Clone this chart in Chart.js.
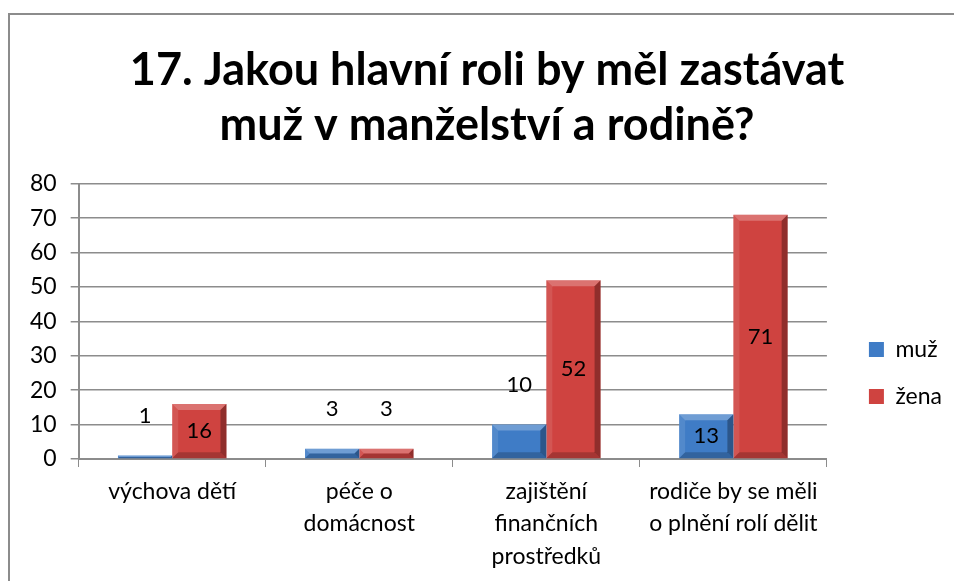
<!DOCTYPE html>
<html>
<head>
<meta charset="utf-8">
<script src="https://cdn.jsdelivr.net/npm/chart.js@4"></script>
<style>
  body { margin: 0; background: #fff; }
</style>
</head>
<body>
<canvas id="chart" width="954" height="581"></canvas>
<script>
const categories = [
    ['výchova dětí'],
    ['péče o', 'domácnost'],
    ['zajištění', 'finančních', 'prostředků'],
    ['rodiče by se měli', 'o plnění rolí dělit']
];
const muz = [1, 3, 10, 13];
const zena = [16, 3, 52, 71];
const titleLines = ['17. Jakou hlavní roli by měl zastávat', 'muž v manželství a rodině?'];

const FONT = 'Lato, "Open Sans", sans-serif';

// grey frame like the Excel chart area (left and top edge only)
const frame = {
    id: 'frame',
    beforeDraw(chart) {
        const c = chart.ctx;
        c.save();
        c.strokeStyle = '#8c8c8c';
        c.lineWidth = 2;
        c.beginPath();
        c.moveTo(9, 581);
        c.lineTo(9, 14);
        c.lineTo(954, 14);
        c.stroke();
        c.restore();
    }
};

// move legend a bit away from the plot, title a bit to the right
const nudge = {
    id: 'nudge',
    afterLayout(chart) {
        chart.legend.left += 18;
        chart.legend.right += 18;
        chart.titleBlock.left += 24;
    }
};

// bevel look on each bar + value labels
const bevel = {
    id: 'bevel',
    afterDatasetsDraw(chart) {
        const c = chart.ctx;
        chart.data.datasets.forEach((ds, i) => {
            chart.getDatasetMeta(i).data.forEach((bar, j) => {
                const l = bar.x - bar.width / 2, r = bar.x + bar.width / 2;
                const t = bar.y, b = bar.base;
                const e = Math.min(6, (b - t) / 2);
                c.save();
                c.fillStyle = 'rgba(255,255,255,0.25)';
                c.beginPath();
                c.moveTo(l, t); c.lineTo(r, t); c.lineTo(r - e, t + e); c.lineTo(l + e, t + e);
                c.closePath(); c.fill();
                c.fillStyle = 'rgba(255,255,255,0.10)';
                c.beginPath();
                c.moveTo(l, t); c.lineTo(l + e, t + e); c.lineTo(l + e, b - e); c.lineTo(l, b);
                c.closePath(); c.fill();
                c.fillStyle = 'rgba(0,0,0,0.30)';
                c.beginPath();
                c.moveTo(r, t); c.lineTo(r, b); c.lineTo(r - e, b - e); c.lineTo(r - e, t + e);
                c.closePath(); c.fill();
                c.fillStyle = 'rgba(0,0,0,0.20)';
                c.beginPath();
                c.moveTo(l, b); c.lineTo(r, b); c.lineTo(r - e, b - e); c.lineTo(l + e, b - e);
                c.closePath(); c.fill();

                const v = ds.data[j];
                let y = (t + b) / 2;
                if (b - t < 40) y = t - 40;
                c.fillStyle = '#000';
                c.font = '22px ' + FONT;
                c.textAlign = 'center';
                c.textBaseline = 'middle';
                c.fillText(String(v), bar.x, y);
                c.restore();
            });
        });
    }
};

new Chart(document.getElementById('chart'), {
    type: 'bar',
    data: {
        labels: categories,
        datasets: [{
            label: 'muž',
            data: muz,
            backgroundColor: '#3f7cc6',
            borderWidth: 0
        },
        {
            label: 'žena',
            data: zena,
            backgroundColor: '#cf4340',
            borderWidth: 0
        }]
    },
    options: {
        responsive: false,
        animation: false,
        layout: { padding: { left: 16, right: 20, top: 43, bottom: 0 } },
        datasets: { bar: { barPercentage: 1, categoryPercentage: 0.58 } },
        plugins: {
            title: {
                display: true,
                text: titleLines,
                color: '#000',
                font: { family: FONT, size: 45, weight: 'bold', lineHeight: 1.22 },
                padding: { top: 0, bottom: 31 }
            },
            legend: {
                position: 'right',
                title: { display: true, text: '', font: { size: 10 }, padding: { top: 0, bottom: 110 } },
                labels: {
                    color: '#000',
                    font: { family: FONT, size: 23 },
                    boxWidth: 15,
                    boxHeight: 15,
                    padding: 24
                }
            },
            tooltip: { enabled: false }
        },
        scales: {
            x: {
                grid: { display: true, drawOnChartArea: false, drawTicks: true, tickLength: 8, color: '#8c8c8c', offset: true },
                border: { color: '#8c8c8c', width: 2 },
                ticks: { color: '#000', font: { family: FONT, size: 23, lineHeight: 1.42 }, padding: 8, maxRotation: 0, autoSkip: false }
            },
            y: {
                min: 0,
                max: 80,
                ticks: { stepSize: 10, color: '#000', font: { family: FONT, size: 23 }, padding: 14 },
                grid: { color: '#8c8c8c', lineWidth: 1.5, tickLength: 8 },
                border: { color: '#8c8c8c', width: 2 }
            }
        }
    },
    plugins: [frame, nudge, bevel]
});
</script>
</body>
</html>
